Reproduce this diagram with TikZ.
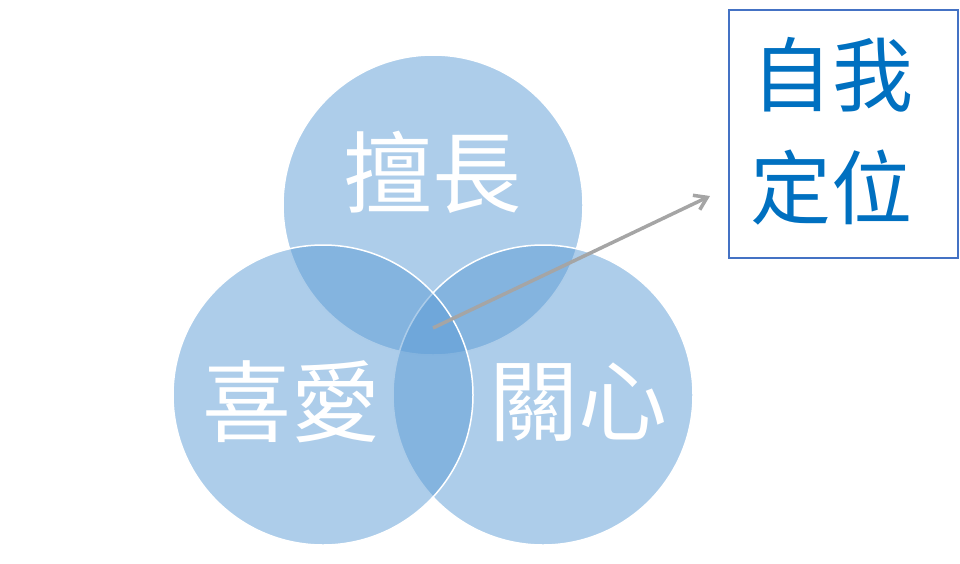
\documentclass[tikz,border=0pt]{standalone}
\usepackage{fontspec}
\usepackage{xcolor}
\usepackage{tikz}
\usetikzlibrary{arrows.meta}
\newfontfamily\cjk{Noto Sans CJK TC}
\definecolor{ringblue}{HTML}{5B9BD5}
\definecolor{boxline}{HTML}{4472C4}
\definecolor{boxtext}{HTML}{0070C0}
\definecolor{pointer}{HTML}{A5A5A5}
\tikzset{
  ring/.style={circle, minimum size=300pt, inner sep=0pt, fill=ringblue, fill opacity=.5, draw=white, draw opacity=1, line width=1.5pt},
  ringword/.style={draw=none, text=white, font=\cjk\fontsize{89}{92}\selectfont},
  boxword/.style={draw=none, text=boxtext, font=\cjk\fontsize{81}{84}\selectfont}
}
\begin{document}
\begin{tikzpicture}[x=1pt, y=-1pt]
             \useasboundingbox (0,0) rectangle (960,563);

             \node[ring] (skill) at (433, 205) {};
             \node[ring] (care) at (543, 395) {};
             \node[ring] (love) at (323, 395) {};

             \node[ringword] (skillword) at (432, 172) {擅長};
             \node[ringword] (loveword) at (291, 402) {喜愛};
             \node[ringword] (careword) at (578, 402) {關心};

             \node[draw=boxline, line width=1.5pt, minimum width=229pt, minimum height=248pt] (box) at (843.5, 134) {};
             \node[boxword] (self) at (832, 75) {自我};
             \node[boxword] (place) at (831, 188) {定位};

             \coordinate (core) at (433, 328);
             \coordinate (tip) at (710, 196);
             \draw[pointer, line width=3.5pt, -{Straight Barb[length=12pt, width=16pt]}] (core) -- (tip);
             \end{tikzpicture}
\end{document}
